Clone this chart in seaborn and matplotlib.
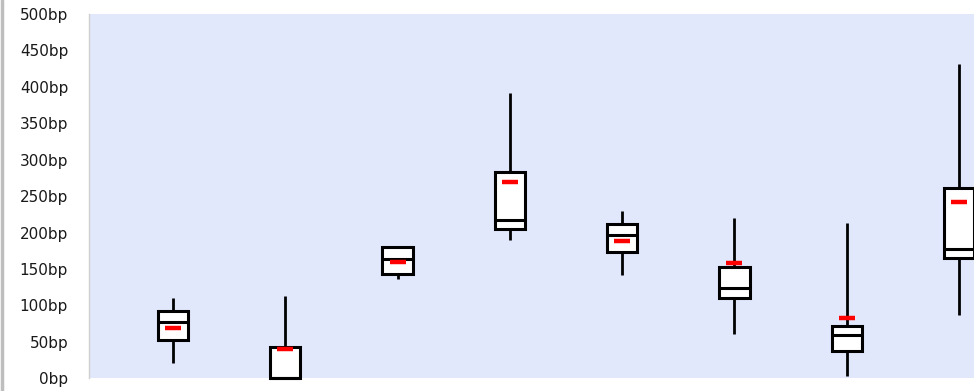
import numpy as np
import pandas as pd
import matplotlib
matplotlib.use("Agg")
import matplotlib.pyplot as plt
from matplotlib.lines import Line2D
import seaborn as sns

# summary stats per bucket, in bp
cats = ["S1", "S2", "S3", "S4", "S5", "S6", "S7", "S8"]
lows = [21.4, 0.0, 136.7, 190.0, 141.8, 60.4, 3.0, 86.5]
q1s = [52.6, 0.0, 143.0, 205.0, 173.0, 110.6, 37.5, 165.0]
meds = [76.8, 0.0, 163.7, 217.0, 196.6, 124.0, 59.0, 178.0]
q3s = [92.4, 42.5, 180.6, 283.0, 211.7, 152.7, 71.8, 260.7]
highs = [110.6, 113.4, 180.6, 392.0, 230.0, 219.5, 213.6, 432.0]
current = [69.0, 40.6, 159.6, 270.0, 189.0, 158.0, 83.2, 241.5]
yticks = [0, 50, 100, 150, 200, 250, 300, 350, 400, 450, 500]

# five points per bucket so the box quartiles land exactly on the stats above
rows = []
for c, a, b, m, d, e in zip(cats, lows, q1s, meds, q3s, highs):
    for v in (a, b, m, d, e):
        rows.append({"cat": c, "bp": v})
df = pd.DataFrame(rows)
cur = pd.DataFrame({"cat": cats, "bp": current})

sns.set_style("white")
plt.rcParams['font.family'] = ['DejaVu Sans']

fig = plt.figure(figsize=(9.74, 3.91), dpi=100)
ax = fig.add_axes([89 / 974, 12.7 / 391, 1 - 89 / 974, 364.3 / 391])
ax.set_facecolor("#E2E8FC")

sns.boxplot(data=df, x="cat", y="bp", order=cats, whis=(0, 100), width=0.27,
            showcaps=False, showfliers=False, ax=ax,
            boxprops=dict(facecolor="white", edgecolor="black", linewidth=2.2),
            medianprops=dict(color="black", linewidth=2.2),
            whiskerprops=dict(color="black", linewidth=2.0))
# let the box edges sitting on 0bp show in full
for art in ax.patches + ax.lines:
    art.set_clip_on(False)
sns.stripplot(data=cur, x="cat", y="bp", order=cats, jitter=False, marker="_",
              size=11, linewidth=3.2, color="#FF0000", ax=ax, zorder=5)

ax.set_ylim(0, 500)
ax.set_yticks(yticks)
ax.set_yticklabels([f"{t}bp" for t in yticks], fontsize=11, color="#1a1a1a")
ax.set_xlim(-0.748, 7.133)
ax.set_xticks([])
ax.set_xlabel("")
ax.set_ylabel("")
for s in ["top", "right", "bottom"]:
    ax.spines[s].set_visible(False)
ax.spines["left"].set_color("#D0D0D0")
ax.spines["left"].set_linewidth(1.0)
ax.tick_params(axis="y", length=5, width=1, color="#D0D0D0", pad=10)

# grey frame line at the left edge of the picture
fig.add_artist(Line2D([2 / 974, 2 / 974], [0, 1], transform=fig.transFigure,
                      color="#BEBEBE", linewidth=2.5))

fig.savefig("out.png", dpi=100)
